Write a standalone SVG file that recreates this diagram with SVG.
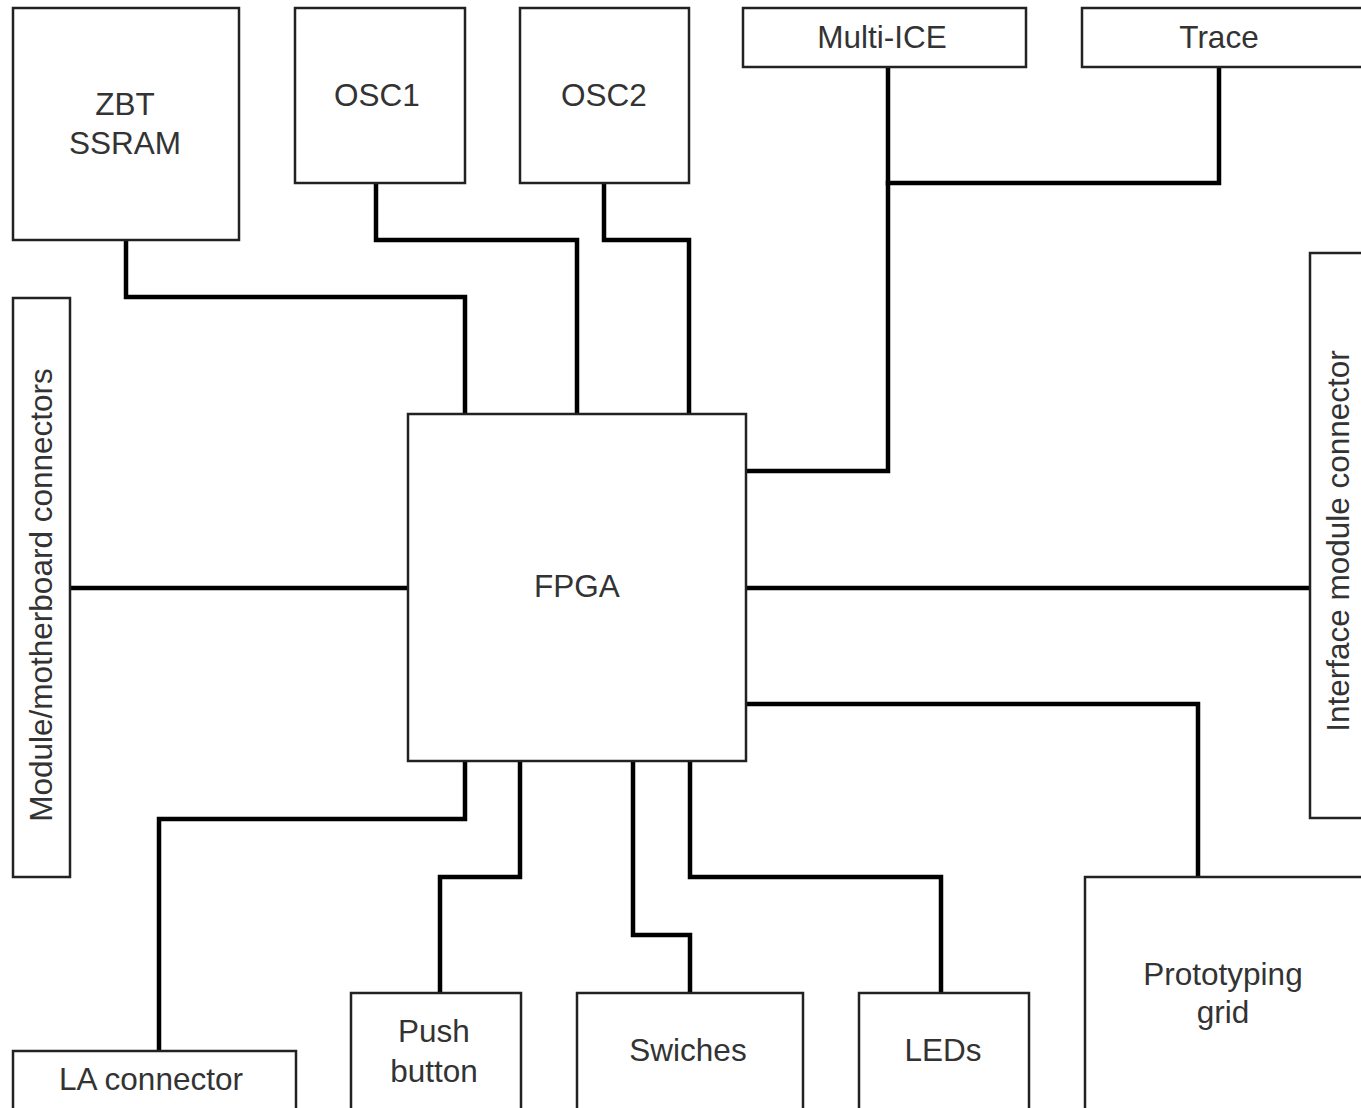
<svg xmlns="http://www.w3.org/2000/svg" width="1361" height="1108" viewBox="0 0 1361 1108">
  <style>
    .box { fill: #ffffff; stroke: #222222; stroke-width: 2.5; }
    .lbl { font-family: "Liberation Sans", Arial, sans-serif; font-size: 31.5px; fill: #333333; text-anchor: middle; }
    .wire { fill: none; stroke: #000000; stroke-width: 4.5; stroke-linejoin: miter; stroke-linecap: square; }
  </style>
  <rect x="0" y="0" width="1361" height="1108" fill="#ffffff"/>

  <!-- connections between the FPGA and the board blocks -->
  <g id="connectors">
    <path class="wire" d="M126,241 V297 H465 V413"/>
    <path class="wire" d="M376,184 V240 H577 V413"/>
    <path class="wire" d="M604,184 V240 H689 V413"/>
    <path class="wire" d="M1219,68 V183 H888"/>
    <path class="wire" d="M888,68 V471 H748"/>
    <path class="wire" d="M71,588 H407"/>
    <path class="wire" d="M748,588 H1309"/>
    <path class="wire" d="M748,704 H1198 V876"/>
    <path class="wire" d="M465,762 V819 H159 V1050"/>
    <path class="wire" d="M520,762 V877 H440 V992"/>
    <path class="wire" d="M633,762 V935 H690 V992"/>
    <path class="wire" d="M690,762 V877 H941 V992"/>
  </g>

  <g id="zbt-ssram">
    <rect class="box" x="13" y="8" width="226" height="232"/>
    <text class="lbl" x="125" y="115">ZBT</text>
    <text class="lbl" x="125" y="154">SSRAM</text>
  </g>

  <g id="osc1">
    <rect class="box" x="295" y="8" width="170" height="175"/>
    <text class="lbl" x="377" y="106">OSC1</text>
  </g>

  <g id="osc2">
    <rect class="box" x="520" y="8" width="169" height="175"/>
    <text class="lbl" x="604" y="106">OSC2</text>
  </g>

  <g id="multi-ice">
    <rect class="box" x="743" y="8" width="283" height="59"/>
    <text class="lbl" x="882" y="48">Multi-ICE</text>
  </g>

  <g id="trace">
    <rect class="box" x="1082" y="8" width="290" height="59"/>
    <text class="lbl" x="1219" y="48">Trace</text>
  </g>

  <g id="module-motherboard-connectors">
    <rect class="box" x="13" y="298" width="57" height="579"/>
    <text class="lbl" transform="translate(52,595) rotate(-90)">Module/motherboard connectors</text>
  </g>

  <g id="interface-module-connector">
    <rect class="box" x="1310" y="253" width="60" height="565"/>
    <text class="lbl" transform="translate(1349,541) rotate(-90)">Interface module connector</text>
  </g>

  <g id="fpga">
    <rect class="box" x="408" y="414" width="338" height="347"/>
    <text class="lbl" x="577" y="597">FPGA</text>
  </g>

  <g id="la-connector">
    <rect class="box" x="13" y="1051" width="283" height="70"/>
    <text class="lbl" x="151" y="1090">LA connector</text>
  </g>

  <g id="push-button">
    <rect class="box" x="351" y="993" width="170" height="128"/>
    <text class="lbl" x="434" y="1042">Push</text>
    <text class="lbl" x="434" y="1082">button</text>
  </g>

  <g id="switches">
    <rect class="box" x="577" y="993" width="226" height="128"/>
    <text class="lbl" x="688" y="1061">Swiches</text>
  </g>

  <g id="leds">
    <rect class="box" x="859" y="993" width="170" height="128"/>
    <text class="lbl" x="943" y="1061">LEDs</text>
  </g>

  <g id="prototyping-grid">
    <rect class="box" x="1085" y="877" width="290" height="244"/>
    <text class="lbl" x="1223" y="985">Prototyping</text>
    <text class="lbl" x="1223" y="1023">grid</text>
  </g>
</svg>
